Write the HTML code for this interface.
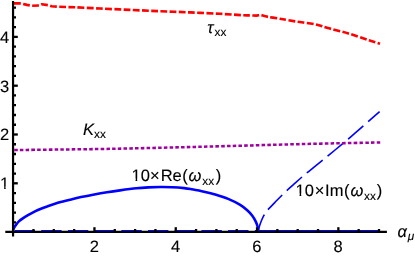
<!DOCTYPE html>
<html><head><meta charset="utf-8"><title>plot</title>
<style>html,body{margin:0;padding:0;background:#fff;overflow:hidden}svg{display:block;will-change:transform}text{text-rendering:geometricPrecision}</style>
</head><body>
<svg width="415" height="257" viewBox="0 0 415 257">
<rect width="415" height="257" fill="#fff"/>
<path d="M13.10 230.40 C13.25 230.00 13.48 228.98 14.00 228.00 C14.52 227.02 15.43 225.57 16.20 224.50 C16.97 223.43 17.50 222.62 18.60 221.60 C19.70 220.58 21.23 219.47 22.80 218.40 C24.37 217.33 25.97 216.37 28.00 215.20 C30.03 214.03 32.83 212.48 35.00 211.40 C37.17 210.32 38.92 209.55 41.00 208.70 C43.08 207.85 45.17 207.12 47.50 206.30 C49.83 205.48 52.58 204.51 55.00 203.75 C57.42 202.99 59.50 202.43 62.00 201.75 C64.50 201.07 66.83 200.47 70.00 199.70 C73.17 198.92 76.95 197.97 81.00 197.10 C85.05 196.22 89.97 195.26 94.30 194.45 C98.63 193.64 102.72 192.93 107.00 192.25 C111.28 191.57 115.12 191.01 120.00 190.35 C124.88 189.69 131.60 188.79 136.30 188.30 C141.00 187.81 144.22 187.62 148.20 187.40 C152.18 187.18 156.18 187.03 160.20 187.00 C164.22 186.97 168.28 187.02 172.30 187.20 C176.32 187.38 181.02 187.75 184.30 188.10 C187.58 188.45 188.70 188.70 192.00 189.30 C195.30 189.90 200.08 190.78 204.10 191.70 C208.12 192.62 212.08 193.60 216.10 194.80 C220.12 196.00 224.18 197.22 228.20 198.90 C232.22 200.58 236.98 202.97 240.20 204.90 C243.42 206.83 245.48 208.68 247.50 210.50 C249.52 212.32 250.90 213.92 252.30 215.80 C253.70 217.68 255.02 220.02 255.90 221.80 C256.78 223.58 257.20 225.07 257.60 226.50 C258.00 227.93 258.18 229.75 258.30 230.40" fill="none" stroke="#0000ff" stroke-width="2.6" stroke-linejoin="round"/>
<path d="M258.30 230.40 C258.50 229.67 258.97 227.65 259.50 226.00 C260.03 224.35 260.68 222.42 261.50 220.50 C262.32 218.58 263.40 216.23 264.40 214.50 C265.40 212.77 265.77 212.08 267.50 210.10 C269.23 208.12 272.01 205.41 274.75 202.60 C277.49 199.79 280.80 196.28 283.95 193.25 C287.10 190.22 290.35 187.41 293.65 184.45 C296.95 181.49 300.30 178.43 303.75 175.50 C307.20 172.57 310.84 169.75 314.35 166.90 C317.86 164.05 321.30 161.26 324.80 158.40 C328.30 155.54 331.89 152.61 335.35 149.75 C338.81 146.89 342.23 144.07 345.55 141.25 C348.88 138.43 352.01 135.71 355.30 132.85 C358.59 129.99 361.25 127.62 365.30 124.10 C369.35 120.57 377.22 113.77 379.60 111.70" fill="none" stroke="#0000ff" stroke-width="1.6" stroke-dasharray="20.4 6.3" stroke-dashoffset="3.5" stroke-linejoin="round"/>
<path d="M13.00 3.40 L21.00 3.40 L27.00 4.90 L32.00 5.80 L39.00 5.50 L41.80 4.30 L48.40 5.20 L51.50 6.30 L57.00 6.70 L66.00 7.00 L75.00 7.25 C79.17 7.46 90.83 8.06 100.00 8.50 C109.17 8.94 120.00 9.45 130.00 9.90 C140.00 10.35 150.00 10.78 160.00 11.20 C170.00 11.62 180.00 11.97 190.00 12.40 C200.00 12.83 211.00 13.33 220.00 13.80 C229.00 14.28 238.83 14.97 244.00 15.25 C249.17 15.53 248.92 15.39 251.00 15.45 C253.08 15.51 256.50 15.60 256.50 15.60 C256.50 15.60 260.50 14.90 260.50 14.90 C260.50 14.90 263.25 15.67 264.50 16.00 C265.75 16.33 265.85 16.52 268.00 16.90 C270.15 17.28 274.90 17.90 277.40 18.30 C279.90 18.70 279.73 18.75 283.00 19.30 C286.27 19.85 291.67 20.77 297.00 21.60 C302.33 22.43 309.67 23.18 315.00 24.30 C320.33 25.42 323.42 26.77 329.00 28.30 C334.58 29.83 342.03 31.57 348.50 33.50 C354.97 35.43 362.55 38.20 367.80 39.90 C373.05 41.60 377.97 43.07 380.00 43.70" fill="none" stroke="#ff0000" stroke-width="2.65" stroke-dasharray="6.8 2.405" stroke-dashoffset="8.2" stroke-linejoin="round"/>
<path d="M13.00 150.05 C15.33 150.03 18.83 149.99 27.00 149.90 C35.17 149.81 50.17 149.64 62.00 149.50 C73.83 149.36 86.67 149.23 98.00 149.05 C109.33 148.88 119.17 148.67 130.00 148.45 C140.83 148.22 152.17 147.96 163.00 147.70 C173.83 147.44 184.17 147.18 195.00 146.90 C205.83 146.62 216.67 146.35 228.00 146.05 C239.33 145.75 251.33 145.42 263.00 145.10 C274.67 144.78 286.17 144.44 298.00 144.15 C309.83 143.86 322.00 143.60 334.00 143.35 C346.00 143.10 362.23 142.81 370.00 142.65 C377.77 142.49 378.83 142.44 380.60 142.40" fill="none" stroke="#a000a0" stroke-width="2.55" stroke-dasharray="3.55 2.203" stroke-dashoffset="4.5"/>
<g stroke="#000" stroke-width="2.2" fill="none">
<path d="M13.05 1V236.5"/>
<path d="M5.3 231.9H386.9"/>
</g>
<path d="M258.3 230.47H379" fill="none" stroke="#0000ff" stroke-width="1.1"/>
<path d="M14.1 230.47H258.3" fill="none" stroke="#0000ff" stroke-width="1.1" stroke-dasharray="20.4 6.3" stroke-dashoffset="26.3"/>
<g stroke="#000" stroke-width="2.3" fill="none">
<path d="M14 222.34H16.00"/>
<path d="M14 212.58H16.00"/>
<path d="M14 202.82H16.00"/>
<path d="M14 193.06H16.00"/>
<path d="M14 183.30H17.80"/>
<path d="M14 173.54H16.00"/>
<path d="M14 163.78H16.00"/>
<path d="M14 154.02H16.00"/>
<path d="M14 144.26H16.00"/>
<path d="M14 134.50H17.80"/>
<path d="M14 124.74H16.00"/>
<path d="M14 114.98H16.00"/>
<path d="M14 105.22H16.00"/>
<path d="M14 95.46H16.00"/>
<path d="M14 85.70H17.80"/>
<path d="M14 75.94H16.00"/>
<path d="M14 66.18H16.00"/>
<path d="M14 56.42H16.00"/>
<path d="M14 46.66H16.00"/>
<path d="M14 36.90H17.80"/>
<path d="M14 27.14H16.00"/>
<path d="M14 17.38H16.00"/>
<path d="M14 7.62H16.00"/>
<path d="M33.48 231.5V229.00"/>
<path d="M53.80 231.5V229.00"/>
<path d="M74.12 231.5V229.00"/>
<path d="M94.45 231.5V227.20"/>
<path d="M114.78 231.5V229.00"/>
<path d="M135.10 231.5V229.00"/>
<path d="M155.43 231.5V229.00"/>
<path d="M175.75 231.5V227.20"/>
<path d="M196.07 231.5V229.00"/>
<path d="M216.40 231.5V229.00"/>
<path d="M236.72 231.5V229.00"/>
<path d="M257.05 231.5V227.20"/>
<path d="M277.37 231.5V229.00"/>
<path d="M297.70 231.5V229.00"/>
<path d="M318.02 231.5V229.00"/>
<path d="M338.35 231.5V227.20"/>
<path d="M358.67 231.5V229.00"/>
<path d="M379.00 231.5V229.00"/>
</g>
<g font-family="'Liberation Sans', sans-serif" font-size="16.5" fill="#000" stroke="#000" stroke-width="0.12">
<text x="9.3" y="189.10" text-anchor="end">1</text>
<text x="9.3" y="140.30" text-anchor="end">2</text>
<text x="9.3" y="91.50" text-anchor="end">3</text>
<text x="9.3" y="42.70" text-anchor="end">4</text>
<text x="94.30" y="251.6" text-anchor="middle">2</text>
<text x="175.60" y="251.6" text-anchor="middle">4</text>
<text x="256.90" y="251.6" text-anchor="middle">6</text>
<text x="338.20" y="251.6" text-anchor="middle">8</text>
<text x="207.30" y="32.70"><tspan font-style="italic">τ</tspan><tspan font-size="11.8" dy="3.3" dx="1.10">xx</tspan></text>
<text x="83.00" y="135.00"><tspan font-style="italic">K</tspan><tspan font-size="11.8" dy="3.3" dx="0.00">xx</tspan></text>
<text x="397.40" y="236.70"><tspan font-style="italic">α</tspan><tspan font-size="11.8" dy="3.3" dx="0.90" font-style="italic">μ</tspan></text>
<text x="131.6" y="181.0">10<tspan dx="0">×</tspan><tspan dx="1.1">Re</tspan><tspan dx="0.5">(</tspan><tspan font-style="italic" dx="0.8">ω</tspan><tspan font-size="11.8" dy="3.6" dx="0.8">xx</tspan><tspan dy="-3.6" dx="1.65">)</tspan></text>
<text x="295.5" y="196.2">10<tspan dx="0.8">×</tspan><tspan dx="0.8">I</tspan><tspan dx="0.1">m</tspan><tspan dx="0.5">(</tspan><tspan font-style="italic" dx="0.9">ω</tspan><tspan font-size="11.8" dy="3.6" dx="0.8">xx</tspan><tspan dy="-3.6" dx="0.9">)</tspan></text>
</g>
<path fill="#fff" d="M0.5 186.6H4.15V189.3H0.5ZM5.65 186.6H9.3V189.3H5.65ZM131.4 178.6H135.55V181.3H131.4ZM137.25 178.6H140.6V181.3H137.25ZM295.4 193.6H299.55V196.3H295.4ZM301.25 193.6H304.6V196.3H301.25Z"/>
</svg>
</body></html>
